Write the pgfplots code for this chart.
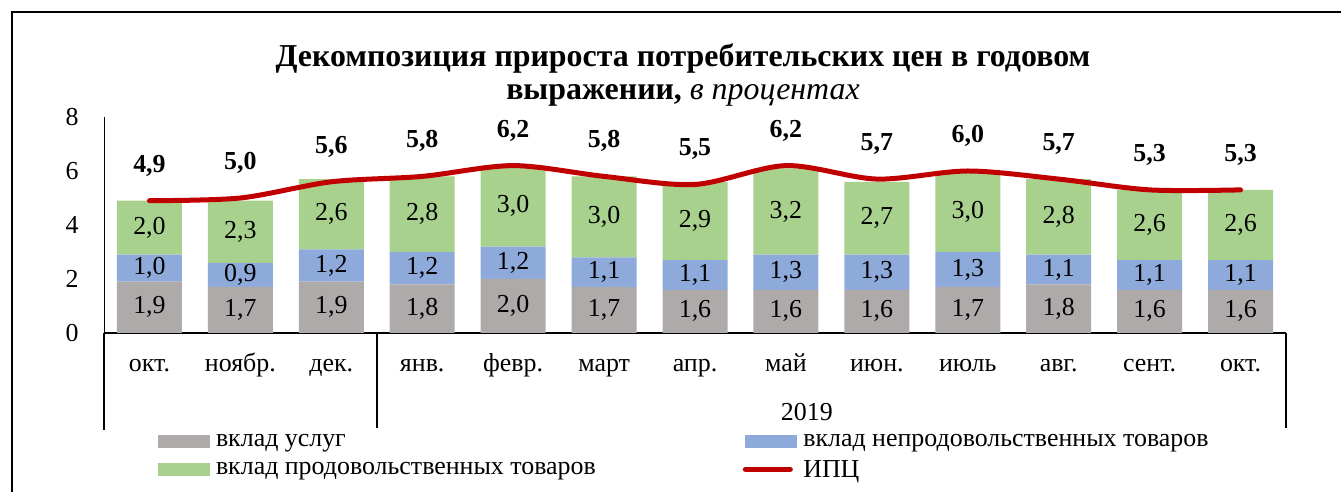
\documentclass[border=0pt]{standalone}
\usepackage{pgfplots}
\pgfplotsset{compat=1.18}
\usepackage{pgfplotstable}
\usepackage{fontspec}
\setmainfont{Liberation Serif}[BoldFont={Liberation Serif Bold}, ItalicFont={Liberation Serif Italic}, BoldItalicFont={Liberation Serif Bold Italic}]
\definecolor{cserv}{HTML}{AEAAAA}
\definecolor{cnon}{HTML}{8EAADB}
\definecolor{cfood}{HTML}{A9D18E}
\definecolor{ccpi}{HTML}{C00000}
\pgfplotstableread{
x serv non food cpi
0 1.9 1.0 2.0 4.9
1 1.7 0.9 2.3 5.0
2 1.9 1.2 2.6 5.6
3 1.8 1.2 2.8 5.8
4 2.0 1.2 3.0 6.2
5 1.7 1.1 3.0 5.8
6 1.6 1.1 2.9 5.5
7 1.6 1.3 3.2 6.2
8 1.6 1.3 2.7 5.7
9 1.7 1.3 3.0 6.0
10 1.8 1.1 2.8 5.7
11 1.6 1.1 2.6 5.3
12 1.6 1.1 2.6 5.3
}\data
\pgfplotsset{
  seglabel/.style={
    point meta=explicit,
    nodes near coords={\pgfmathprintnumber[fixed,fixed zerofill,precision=1,use comma]{\pgfplotspointmeta}},
    every node near coord/.append style={anchor=center, font=\fontsize{26}{30}\selectfont, text=black},
  },
  barlegend/.style={legend image code/.code={\fill[#1] (0bp,-6.5bp) rectangle (52bp,6.5bp);}},
  commonaxis/.style={
    at={(104bp,159bp)}, anchor=south west,
    scale only axis, width=1182bp, height=216bp,
    xmin=-0.5, xmax=12.5, ymin=0, ymax=8, clip=false,
    /pgf/number format/assume math mode=true,
  },
}
\begin{document}
\begin{tikzpicture}[x=1bp,y=1bp]
\useasboundingbox (0,0) rectangle (1341,492);
\draw[line width=2bp] (12,0) -- (12,480) -- (1341,480);
\node[align=center, font=\fontsize{32}{34}\selectfont] at (683,417) {\textbf{Декомпозиция прироста потребительских цен в годовом}\\\textbf{выражении,} \textit{в процентах}};
\begin{axis}[
  commonaxis,
  ybar stacked, bar width=0.715,
  axis x line*=bottom, axis y line*=left,
  x axis line style={-, line width=1.5bp},
  y axis line style={-, line width=0.8bp},
  xtick={0,...,12},
  xticklabels={окт.,ноябр.,дек.,янв.,февр.,март,апр.,май,июн.,июль,авг.,сент.,окт.},
  ytick={0,2,4,6,8},
  major tick length=0pt,
  tick label style={font=\fontsize{26}{30}\selectfont},
  xticklabel style={anchor=center, text height=18bp, text depth=5bp, yshift=-32bp},
  yticklabel style={anchor=center, xshift=-32bp},
  legend columns=2,
  legend cell align=left,
  legend style={draw=none, fill=none, at={(0.043,-0.45)}, anchor=north west,
    font=\fontsize{26}{29}\selectfont, row sep=8bp,
    /tikz/every odd column/.append style={column sep=4bp},
    /tikz/every even column/.append style={column sep=145bp}},
]
\addplot[fill=cserv, draw=none, seglabel, barlegend={cserv}] table[x=x,y=serv,meta=serv]{\data};
\addlegendentry{вклад услуг}
\addplot[fill=cnon, draw=none, seglabel, barlegend={cnon}] table[x=x,y=non,meta=non]{\data};
\addlegendentry{вклад непродовольственных товаров}
\addplot[fill=cfood, draw=none, seglabel, barlegend={cfood}] table[x=x,y=food,meta=food]{\data};
\addlegendentry{вклад продовольственных товаров}
\addlegendimage{legend image code/.code={\draw[ccpi, line width=5bp, line cap=round] (0bp,0bp) -- (45bp,0bp);}}
\addlegendentry{ИПЦ}
\draw[line width=1.5bp] (axis cs:-0.5,0) -- ++(0bp,-97bp);
\draw[line width=1.5bp] (axis cs:2.5,0) -- ++(0bp,-95bp);
\draw[line width=1.5bp] (axis cs:12.5,0) -- ++(0bp,-95bp);
\node[font=\fontsize{26}{30}\selectfont] at (axis cs:7.23,0) [yshift=-79bp] {2019};
\end{axis}
\begin{axis}[commonaxis, hide axis]
\addplot[smooth, draw=ccpi, line width=5bp, line cap=round, mark=none,
  point meta=explicit,
  nodes near coords={\pgfmathprintnumber[fixed,fixed zerofill,precision=1,use comma]{\pgfplotspointmeta}},
  every node near coord/.append style={anchor=center, yshift=35bp, font=\fontsize{26}{30}\selectfont\bfseries, text=black}]
  table[x=x,y=cpi,meta=cpi]{\data};
\end{axis}
\end{tikzpicture}
\end{document}
